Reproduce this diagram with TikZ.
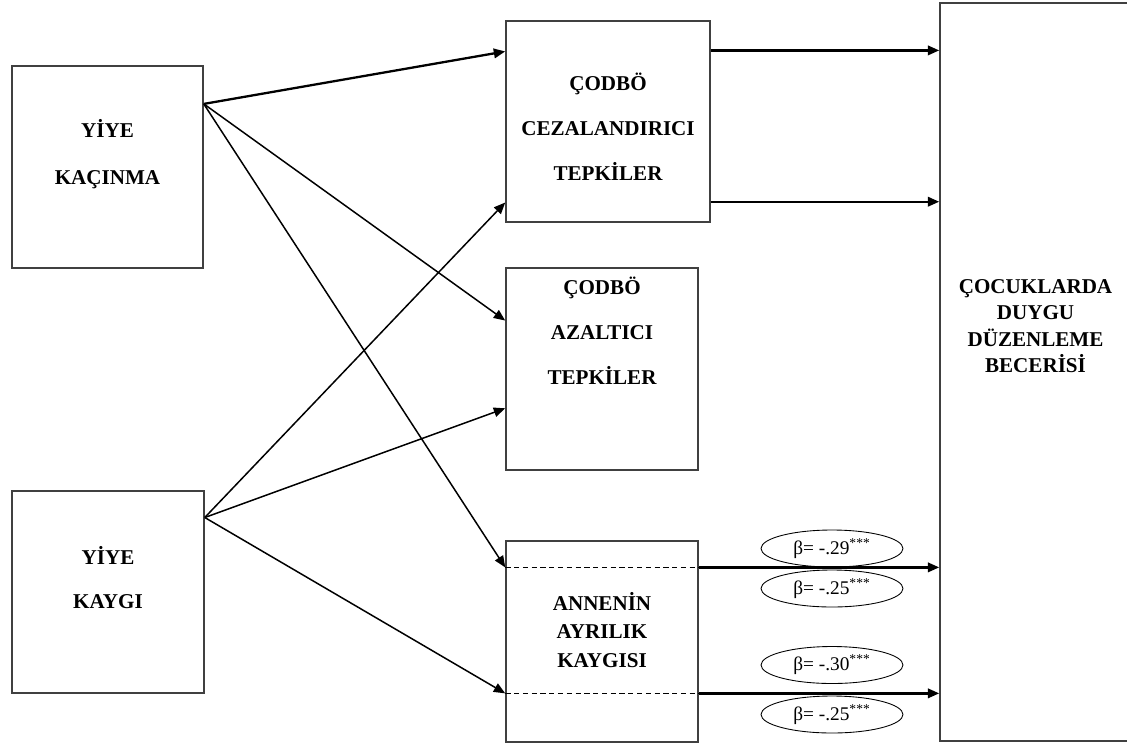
\documentclass[tikz,border=0pt]{standalone}
\usepackage{fontspec}
\setmainfont{Liberation Serif}
\usepackage{tikz}
\usetikzlibrary{calc,positioning,arrows.meta,shapes.geometric}
\tikzset{
    >={Triangle[length=6.5pt,width=5.4pt]},
    kutu/.style={
        rectangle,
        draw=black!75, line width=0.9pt,
        minimum width=3.84cm,
        minimum height=4.04cm,
        inner sep=0pt
    },
    baslik/.style={
        anchor=base,
        inner sep=0pt,
        font=\bfseries\fontsize{12}{14}\selectfont
    },
    ok/.style={draw, ->, line width=0.85pt},
    kalinok/.style={draw, ->, line width=1.3pt},
    kesik/.style={draw, dash pattern=on 3pt off 2pt, line width=0.6pt},
    katsayi/.style={
        ellipse,
        draw, line width=0.5pt,
        minimum width=2.84cm,
        minimum height=0.74cm,
        inner sep=0pt,
        font=\fontsize{11}{13}\selectfont
    },
}
\begin{document}
\begin{tikzpicture}[x=0.02cm,y=-0.02cm]
\useasboundingbox (0,0) rectangle (1127,745);
% kutular
\node[kutu, minimum width=3.82cm] (yk) at (107.5,167) {};
\node[kutu] (kaygi) at (108,592) {};
\node[kutu, minimum width=4.08cm, minimum height=4.02cm] (cez) at (608,121.5) {};
\node[kutu] (azal) at (602,369) {};
\node[kutu, minimum height=4.02cm] (anne) at (602,641.5) {};
\node[kutu, minimum width=4.0cm, minimum height=14.76cm] (cdd) at (1040,372) {};
% yazilar
\foreach \satir [count=\i from 0] in {YİYE,KAÇINMA}
    \node[baslik] (yk\i) at (107.5,137+47*\i) {\satir};
\foreach \satir [count=\i from 0] in {YİYE,KAYGI}
    \node[baslik] (kaygi\i) at (108,564+44*\i) {\satir};
\foreach \satir [count=\i from 0] in {ÇODBÖ,CEZALANDIRICI,TEPKİLER}
    \node[baslik] (cez\i) at (608,90+45*\i) {\satir};
\foreach \satir [count=\i from 0] in {ÇODBÖ,AZALTICI,TEPKİLER}
    \node[baslik] (azal\i) at (602,294+45*\i) {\satir};
\foreach \satir [count=\i from 0] in {ANNENİN,AYRILIK,KAYGISI}
    \node[baslik] (anne\i) at (602,610+28.5*\i) {\satir};
\foreach \satir [count=\i from 0] in {ÇOCUKLARDA,DUYGU,DÜZENLEME,BECERİSİ}
    \node[baslik] (cdd\i) at (1035.5,293+26.5*\i) {\satir};
% baglanti noktalari
\coordinate (ykOut) at ($(yk.north east)!.19!(yk.south east)$);
\coordinate (kaygiOut) at ($(kaygi.north east)!.134!(kaygi.south east)$);
\coordinate (anneUst) at ($(anne.north west)!.134!(anne.south west)$);
\coordinate (anneAlt) at ($(anne.north west)!.756!(anne.south west)$);
\coordinate (cezSag1) at ($(cez.north east)!.149!(cez.south east)$);
\coordinate (cezSag2) at ($(cez.north east)!.896!(cez.south east)$);
% oklar
\draw[kalinok] (ykOut) -- ($(cez.north west)!.154!(cez.south west)$);
\draw[ok] (ykOut) -- ($(azal.north west)!.262!(azal.south west)$);
\draw[ok] (ykOut) -- (anneUst);
\draw[ok] (kaygiOut) -- ($(cez.north west)!.9!(cez.south west)$);
\draw[ok] (kaygiOut) -- ($(azal.north west)!.693!(azal.south west)$);
\draw[ok] (kaygiOut) -- (anneAlt);
\draw[kalinok] (cezSag1) -- (cezSag1 -| cdd.west);
\draw[kalinok] (cezSag2) -- (cezSag2 -| cdd.west);
\draw[kesik] (anneUst) -- (anneUst -| anne.east);
\draw[kesik] (anneAlt) -- (anneAlt -| anne.east);
\draw[kalinok] (anneUst -| anne.east) -- (anneUst -| cdd.west);
\draw[kalinok] (anneAlt -| anne.east) -- (anneAlt -| cdd.west);
% katsayilar
\node[katsayi] (b1) at (832,548.5) {β= -.29\textsuperscript{***}};
\node[katsayi] (b2) at (832,588.5) {β= -.25\textsuperscript{***}};
\node[katsayi] (b3) at (832,665) {β= -.30\textsuperscript{***}};
\node[katsayi] (b4) at (832,714.5) {β= -.25\textsuperscript{***}};
\end{tikzpicture}
\end{document}
